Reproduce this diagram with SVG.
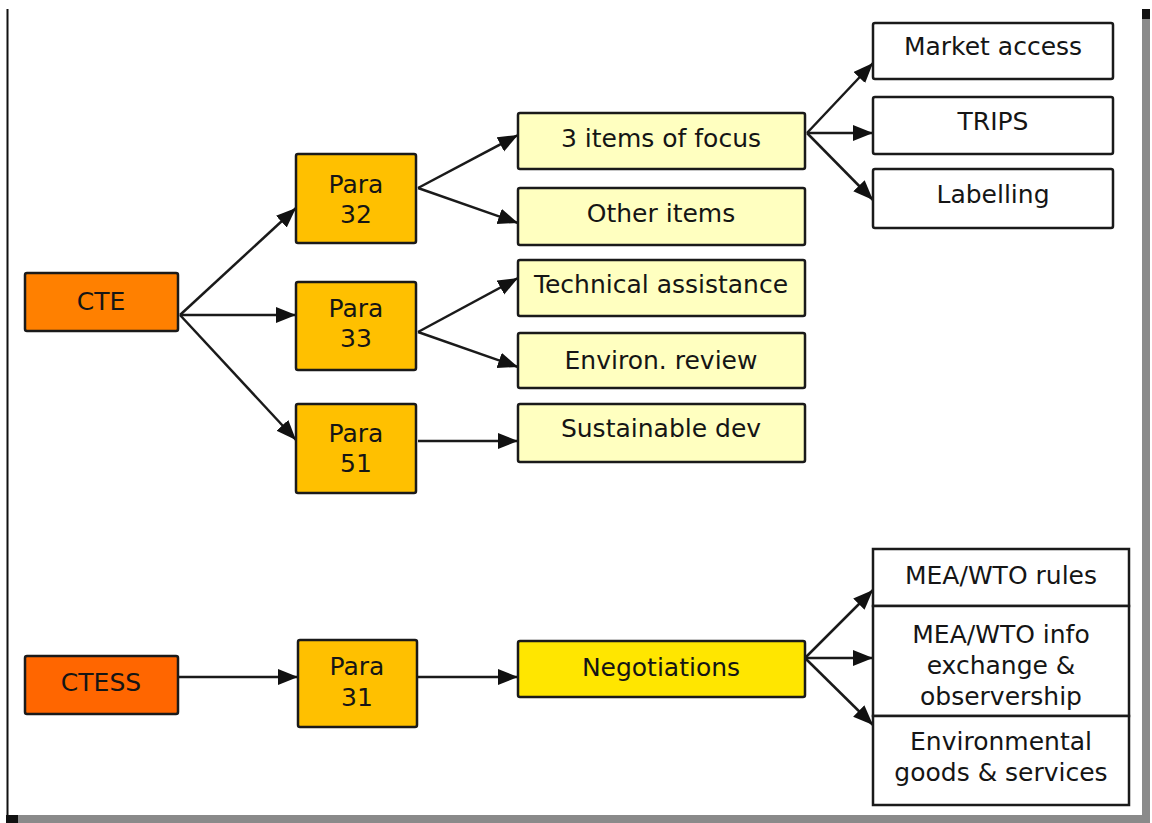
<svg xmlns="http://www.w3.org/2000/svg" width="1152" height="823" viewBox="0 0 1152 823">
<style>
.box{stroke:#1a1a1a;stroke-width:2.5}
.orange{fill:#FF8000}
.red{fill:#FF6600}
.para{fill:#FFC000}
.light{fill:#FFFFC0}
.neg{fill:#FFE600}
.white{fill:#FFFFFF}
text{font-family:"DejaVu Sans","Verdana",sans-serif;font-size:25px;fill:#151515;text-anchor:middle}
.conn line{stroke:#1a1a1a;stroke-width:2.5;marker-end:url(#arr)}
</style>
<defs>
<marker id="arr" markerUnits="userSpaceOnUse" markerWidth="21" markerHeight="17" refX="20" refY="8" orient="auto">
<path d="M0,0 L20,8 L0,16 Z" fill="#111"/>
</marker>
</defs>
<rect width="1152" height="823" fill="#FFFFFF"/>
<g id="frame">
<line x1="7.5" y1="9" x2="7.5" y2="822" stroke="#111" stroke-width="2"/>
<rect x="1142" y="19" width="8" height="797" fill="#8a8a8a"/>
<rect x="1142" y="9" width="8" height="10" fill="#111"/>
<rect x="18" y="815" width="1132" height="8" fill="#8a8a8a"/>
<rect x="6" y="815" width="12" height="8" fill="#111"/>
</g>
<g class="conn" id="connectors">
<line x1="180" y1="315" x2="296" y2="208"/>
<line x1="180" y1="315" x2="296" y2="315"/>
<line x1="180" y1="315" x2="296" y2="440"/>
<line x1="418" y1="188" x2="518" y2="135"/>
<line x1="418" y1="188" x2="518" y2="223"/>
<line x1="418" y1="332" x2="518" y2="278"/>
<line x1="418" y1="332" x2="518" y2="367"/>
<line x1="418" y1="441" x2="518" y2="441"/>
<line x1="807" y1="133" x2="873" y2="63"/>
<line x1="807" y1="133" x2="873" y2="133"/>
<line x1="807" y1="133" x2="873" y2="200"/>
<line x1="178" y1="677" x2="298" y2="677"/>
<line x1="417" y1="677" x2="518" y2="677"/>
<line x1="805" y1="658" x2="873" y2="590"/>
<line x1="805" y1="658" x2="873" y2="658"/>
<line x1="805" y1="658" x2="873" y2="725"/>
</g>
<g id="cte"><rect class="box orange" x="25" y="273" width="153" height="58" rx="2"/><text x="101" y="310">CTE</text></g>
<g id="para32"><rect class="box para" x="296" y="154" width="120" height="89" rx="2"/><text x="356" y="193">Para</text><text x="356" y="223">32</text></g>
<g id="para33"><rect class="box para" x="296" y="282" width="120" height="88" rx="2"/><text x="356" y="317">Para</text><text x="356" y="347">33</text></g>
<g id="para51"><rect class="box para" x="296" y="404" width="120" height="89" rx="2"/><text x="356" y="442">Para</text><text x="356" y="472">51</text></g>
<g id="focus"><rect class="box light" x="518" y="113" width="287" height="56" rx="2"/><text x="661" y="147">3 items of focus</text></g>
<g id="other"><rect class="box light" x="518" y="188" width="287" height="57" rx="2"/><text x="661" y="222">Other items</text></g>
<g id="tech"><rect class="box light" x="518" y="260" width="287" height="56" rx="2"/><text x="661" y="293">Technical assistance</text></g>
<g id="environ"><rect class="box light" x="518" y="333" width="287" height="55" rx="2"/><text x="661" y="369">Environ. review</text></g>
<g id="sustain"><rect class="box light" x="518" y="404" width="287" height="58" rx="2"/><text x="661" y="437">Sustainable dev</text></g>
<g id="market"><rect class="box white" x="873" y="23" width="240" height="56" rx="2"/><text x="993" y="55">Market access</text></g>
<g id="trips"><rect class="box white" x="873" y="97" width="240" height="57" rx="2"/><text x="993" y="130">TRIPS</text></g>
<g id="labelling"><rect class="box white" x="873" y="169" width="240" height="59" rx="2"/><text x="993" y="203">Labelling</text></g>
<g id="ctess"><rect class="box red" x="25" y="656" width="153" height="58" rx="2"/><text x="101" y="691">CTESS</text></g>
<g id="para31"><rect class="box para" x="298" y="640" width="119" height="87" rx="2"/><text x="357" y="675">Para</text><text x="357" y="706">31</text></g>
<g id="negotiations"><rect class="box neg" x="518" y="641" width="287" height="56" rx="2"/><text x="661" y="676">Negotiations</text></g>
<g id="mearules"><rect class="box white" x="873" y="549" width="256" height="57"/><text x="1001" y="584">MEA/WTO rules</text></g>
<g id="meainfo"><rect class="box white" x="873" y="606" width="256" height="110"/><text x="1001" y="643">MEA/WTO info</text><text x="1001" y="674">exchange &amp;</text><text x="1001" y="705">observership</text></g>
<g id="envgoods"><rect class="box white" x="873" y="716" width="256" height="89"/><text x="1001" y="750">Environmental</text><text x="1001" y="781">goods &amp; services</text></g>
</svg>
